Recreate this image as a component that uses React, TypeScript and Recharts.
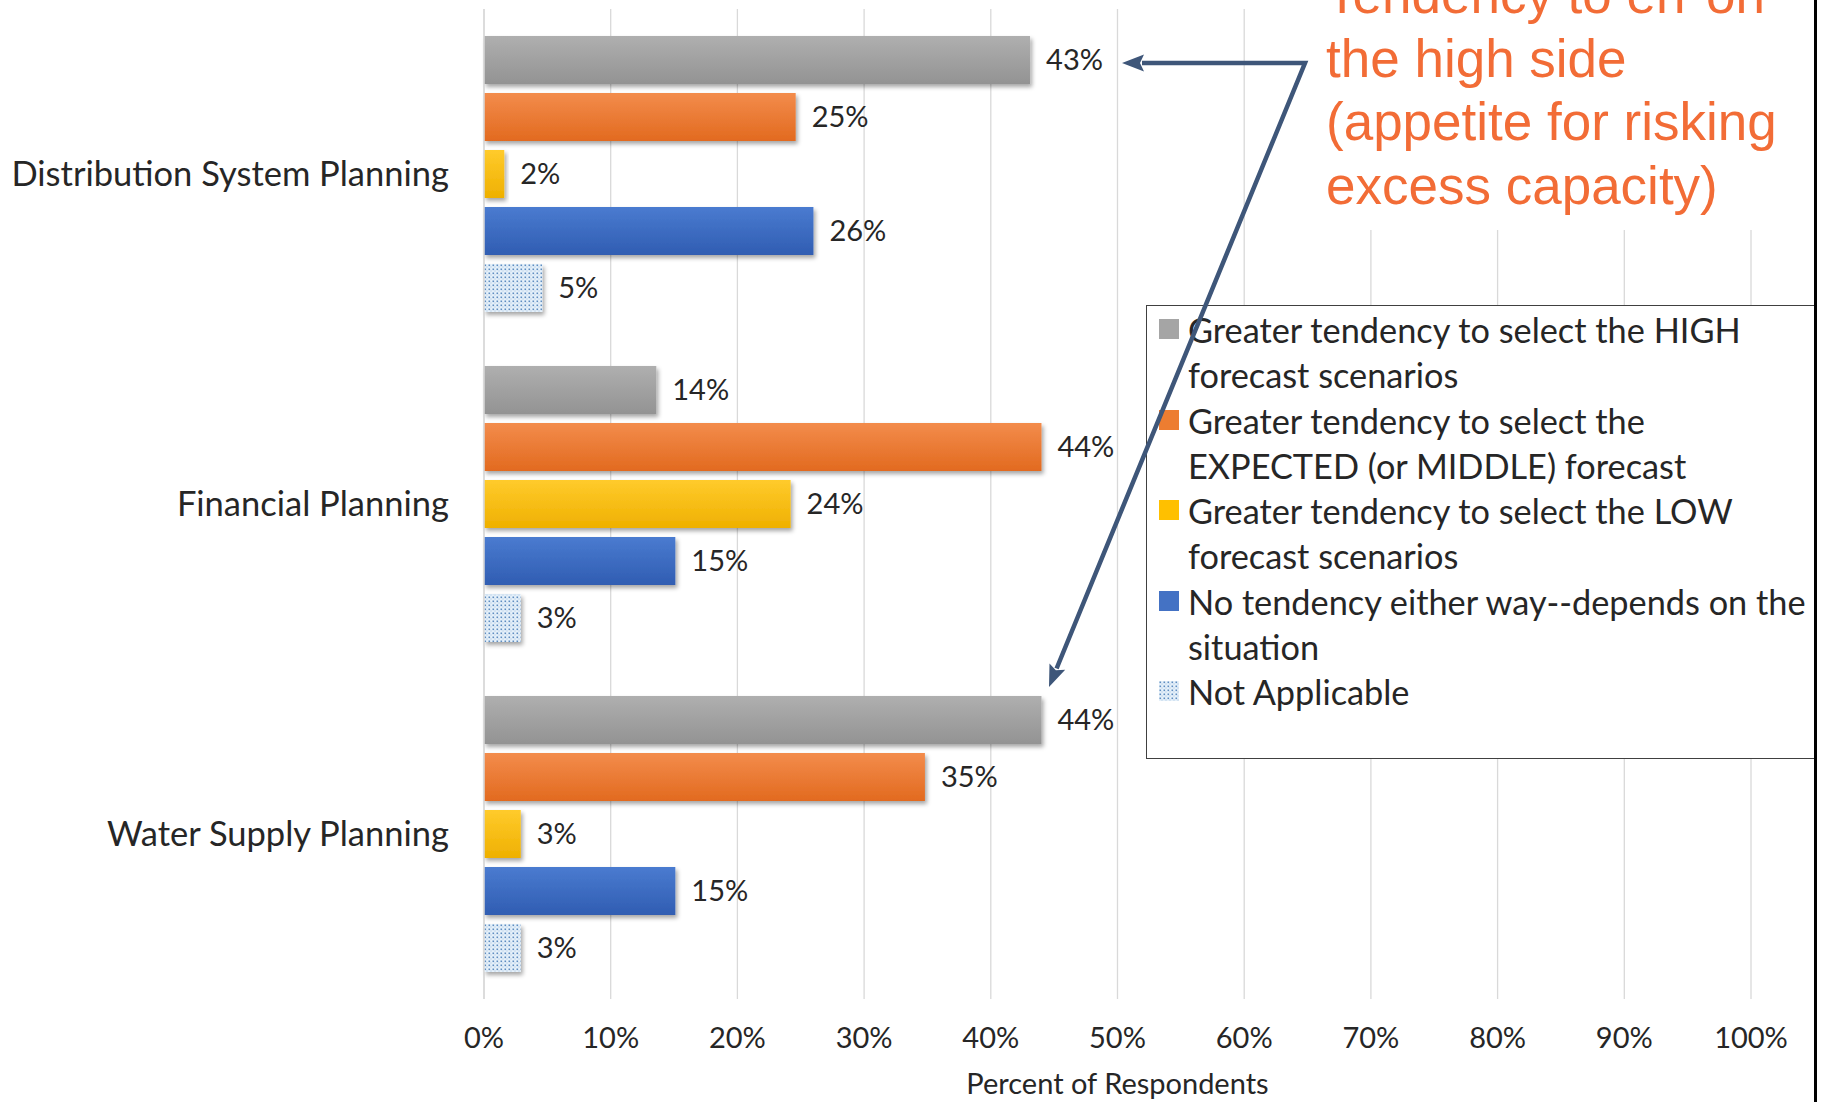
import React from 'react';
import { BarChart, Bar, XAxis, YAxis, CartesianGrid, LabelList, Legend } from 'recharts';

// ---------- data ----------
const categories = ['Distribution System Planning', 'Financial Planning', 'Water Supply Planning'];
const seriesKeys = ['high', 'expected', 'low', 'none', 'na'];
const seriesNames = [
  'Greater tendency to select the HIGH forecast scenarios',
  'Greater tendency to select the EXPECTED (or MIDDLE) forecast',
  'Greater tendency to select the LOW forecast scenarios',
  'No tendency either way--depends on the situation',
  'Not Applicable',
];
const legendLines = [
  ['Greater tendency to select the HIGH', 'forecast scenarios'],
  ['Greater tendency to select the', 'EXPECTED (or MIDDLE) forecast'],
  ['Greater tendency to select the LOW', 'forecast scenarios'],
  ['No tendency either way--depends on the', 'situation'],
  ['Not Applicable'],
];
const highValues = [43.1, 13.6, 44];
const expectedValues = [24.6, 44, 34.8];
const lowValues = [1.6, 24.2, 2.9];
const noneValues = [26, 15.1, 15.1];
const naValues = [4.6, 2.9, 2.9];
const xTicks = [0, 10, 20, 30, 40, 50, 60, 70, 80, 90, 100];
const xAxisTitle = 'Percent of Respondents';
const annotationLines = ['Tendency to err on', 'the high side', '(appetite for risking', 'excess capacity)'];

const data = categories.map((c, i) => ({
  category: c,
  high: highValues[i],
  expected: expectedValues[i],
  low: lowValues[i],
  none: noneValues[i],
  na: naValues[i],
}));

// ---------- styles ----------
const W = 1830;
const H = 1102;
const FONT = 'Lato, "Open Sans", sans-serif';
const TEXT = '#262626';
const barFills = ['url(#gHigh)', 'url(#gExp)', 'url(#gLow)', 'url(#gNone)', 'url(#naPattern)'];
const swatchFills = ['#A5A5A5', '#ED7D31', '#FFC000', '#4472C4', 'url(#naPattern)'];

const ShadowBar = (props: any) => {
  const { x, y, width, height, fill } = props;
  if (!width || width <= 0) return null;
  return <rect x={x} y={y} width={width} height={height} fill={fill} filter="url(#barShadow)" />;
};

const LegendBox = () => (
  <div
    style={{
      boxSizing: 'border-box',
      width: 670,
      height: 454,
      border: '1.5px solid #404040',
      background: '#fff',
      fontFamily: FONT,
      fontSize: 34.3,
      color: TEXT,
      paddingTop: 1,
      position: 'relative',
    }}
  >
    {legendLines.map((lines, i) => (
      <div key={seriesKeys[i]} style={{ position: 'relative', height: 90.5 }}>
        <svg width={20} height={20} style={{ position: 'absolute', left: 12, top: 12 }}>
          <rect x={0} y={0} width={20} height={20} fill={swatchFills[i]} />
        </svg>
        <div style={{ position: 'absolute', left: 41, top: 0, whiteSpace: 'nowrap', lineHeight: '45px' }}>
          {lines.map((l, j) => (
            <div key={j}>{l}</div>
          ))}
        </div>
      </div>
    ))}
  </div>
);

// arrow geometry (annotation)
const arrowColor = '#3E5679';
const corner = { x: 1305, y: 63 };
const leftTip = { x: 1122, y: 63 };
const downTip = { x: 1049, y: 687 };
const dvx = downTip.x - corner.x;
const dvy = downTip.y - corner.y;
const dlen = Math.sqrt(dvx * dvx + dvy * dvy);
const ux = dvx / dlen;
const uy = dvy / dlen;
const headL = 22;
const headW = 8.5;
const downBase = { x: downTip.x - ux * headL, y: downTip.y - uy * headL };

export default function App() {
  return (
    <div style={{ position: 'fixed', left: 0, top: 0, width: W, height: H, background: '#fff', overflow: 'hidden' }}>
      <svg width={0} height={0} style={{ position: 'absolute' }}>
        <defs>
          <linearGradient id="gHigh" x1="0" y1="0" x2="0" y2="1">
            <stop offset="0%" stopColor="#AFAFAF" />
            <stop offset="100%" stopColor="#939393" />
          </linearGradient>
          <linearGradient id="gExp" x1="0" y1="0" x2="0" y2="1">
            <stop offset="0%" stopColor="#F38C4C" />
            <stop offset="100%" stopColor="#E26A1F" />
          </linearGradient>
          <linearGradient id="gLow" x1="0" y1="0" x2="0" y2="1">
            <stop offset="0%" stopColor="#FFCB2C" />
            <stop offset="100%" stopColor="#EFB000" />
          </linearGradient>
          <linearGradient id="gNone" x1="0" y1="0" x2="0" y2="1">
            <stop offset="0%" stopColor="#4A7BD0" />
            <stop offset="100%" stopColor="#305DB2" />
          </linearGradient>
          <pattern id="naPattern" x="0" y="0" width="4" height="4" patternUnits="userSpaceOnUse">
            <rect x="0" y="0" width="4" height="4" fill="#E6F1FA" />
            <rect x="0.5" y="0.5" width="1.6" height="1.6" fill="#5F8DC0" />
            <rect x="2.5" y="2.5" width="1" height="1" fill="#9DBCDD" />
          </pattern>
          <filter id="barShadow" x="-10%" y="-20%" width="130%" height="160%">
            <feDropShadow dx="2" dy="3" stdDeviation="2" floodColor="#000" floodOpacity="0.35" />
          </filter>
        </defs>
      </svg>

      <BarChart
        width={W}
        height={H}
        data={data}
        layout="vertical"
        margin={{ top: 9, right: 79, bottom: 0, left: 0 }}
        barGap={9}
      >
        <CartesianGrid horizontal={false} vertical={true} stroke="#D9D9D9" strokeWidth={1.3} />
        <XAxis
          type="number"
          domain={[0, 100]}
          ticks={xTicks}
          tickFormatter={(v: number) => `${v}%`}
          axisLine={false}
          tickLine={false}
          height={103}
          tickMargin={22}
          tick={{ fill: TEXT, fontSize: 29, fontFamily: FONT }}
          interval={0}
          label={{ value: xAxisTitle, position: 'insideBottom', offset: 8, fill: TEXT, fontSize: 29, fontFamily: FONT }}
        />
        <YAxis
          type="category"
          dataKey="category"
          width={484}
          tickLine={false}
          axisLine={{ stroke: '#D9D9D9', strokeWidth: 1.5 }}
          tickMargin={29}
          tick={{ fill: TEXT, fontSize: 34.5, fontFamily: FONT }}
          interval={0}
        />
        {seriesKeys.map((k, i) => (
          <Bar
            key={k}
            dataKey={k}
            name={seriesNames[i]}
            fill={barFills[i]}
            barSize={48}
            isAnimationActive={false}
            shape={ShadowBar}
          >
            <LabelList
              dataKey={k}
              position="right"
              offset={16}
              formatter={(v: any) => `${Math.round(Number(v))}%`}
              fill={TEXT}
              fontSize={29}
              fontFamily={FONT}
            />
          </Bar>
        ))}
        <Legend
          layout="horizontal"
          verticalAlign="middle"
          align="center"
          content={() => <LegendBox />}
          wrapperStyle={{ left: 1146, top: 305, width: 670, height: 454 }}
        />
      </BarChart>

      <svg
        width={W}
        height={H}
        style={{ position: 'absolute', left: 0, top: 0, pointerEvents: 'none' }}
      >
        <rect x={1310} y={0} width={504} height={230} fill="#fff" />
        {annotationLines.map((l, i) => (
          <text
            key={i}
            x={1326}
            y={13 + i * 63.5}
            fill="#F26C36"
            fontSize={53}
            fontFamily='"Liberation Sans", Arial, sans-serif'
          >
            {l}
          </text>
        ))}
        <polyline
          points={`${leftTip.x + headL - 2},${leftTip.y} ${corner.x},${corner.y} ${downBase.x + ux * 2},${downBase.y + uy * 2}`}
          fill="none"
          stroke={arrowColor}
          strokeWidth={4.5}
          strokeLinejoin="miter"
        />
        <polygon
          points={`${leftTip.x},${leftTip.y} ${leftTip.x + headL},${leftTip.y - headW} ${leftTip.x + headL - 4},${leftTip.y} ${leftTip.x + headL},${leftTip.y + headW}`}
          fill={arrowColor}
        />
        <polygon
          points={`${downTip.x},${downTip.y} ${downBase.x - uy * headW},${downBase.y + ux * headW} ${downBase.x + ux * 4},${downBase.y + uy * 4} ${downBase.x + uy * headW},${downBase.y - ux * headW}`}
          fill={arrowColor}
        />
        <rect x={1814} y={0} width={3} height={H} fill="#000" />
      </svg>
    </div>
  );
}
